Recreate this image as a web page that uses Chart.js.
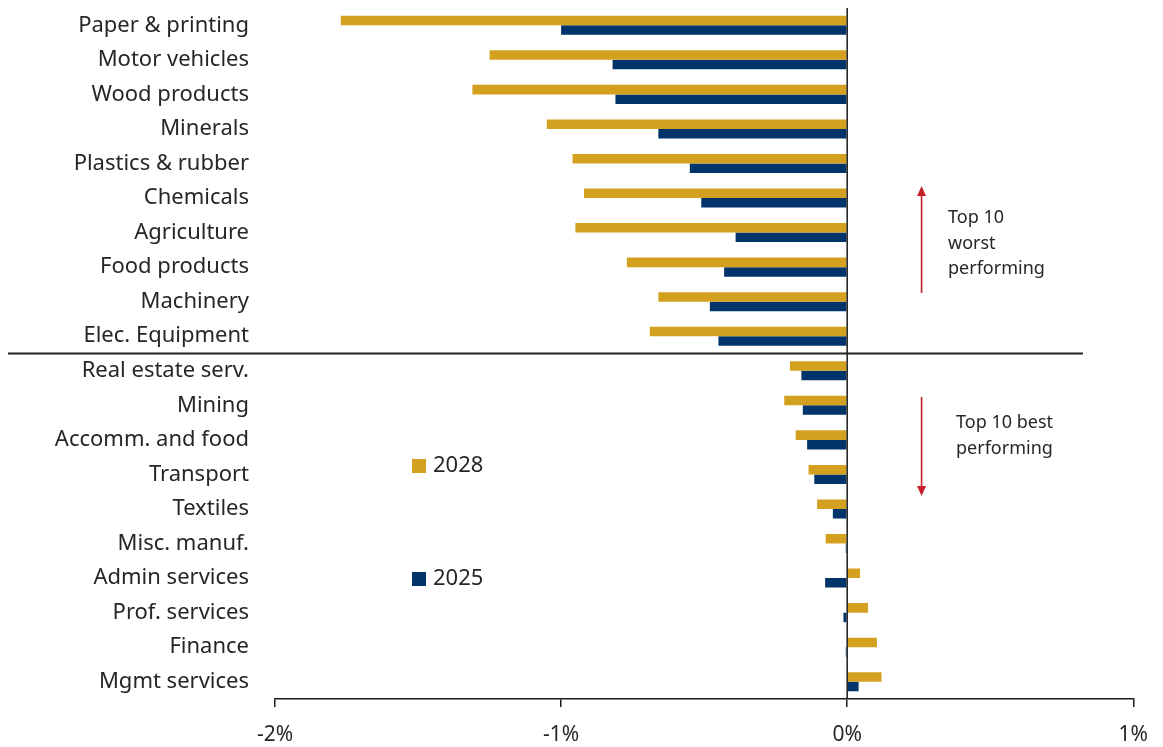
<!DOCTYPE html>
<html>
<head>
<title>Output change by industry</title>
<script src="https://cdn.jsdelivr.net/npm/chart.js"></script>
<style>
  body { margin: 0; background: #fff; }
</style>
</head>
<body>
<canvas id="myChart" width="1163" height="747"></canvas>
<script>
const industries = ['Paper & printing', 'Motor vehicles', 'Wood products', 'Minerals', 'Plastics & rubber',
  'Chemicals', 'Agriculture', 'Food products', 'Machinery', 'Elec. Equipment',
  'Real estate serv.', 'Mining', 'Accomm. and food', 'Transport', 'Textiles',
  'Misc. manuf.', 'Admin services', 'Prof. services', 'Finance', 'Mgmt services'];
const change2028 = [-1.77, -1.25, -1.31, -1.05, -0.96, -0.92, -0.95, -0.77, -0.66, -0.69,
  -0.20, -0.22, -0.18, -0.135, -0.105, -0.075, 0.045, 0.073, 0.104, 0.12];
const change2025 = [-1.0, -0.82, -0.81, -0.66, -0.55, -0.51, -0.39, -0.43, -0.48, -0.45,
  -0.16, -0.155, -0.14, -0.115, -0.05, -0.005, -0.077, -0.013, -0.005, 0.04];
const xTicks = [-2, -1, 0, 1];

const GOLD = '#D3A11F';
const NAVY = '#00346B';
const TEXT = '#262626';
const FONT = '"Noto Sans", "Open Sans", sans-serif';

// zero line, divider, arrows with notes and the legend
const extras = {
  id: 'extras',
  afterDatasetsDraw(chart) {
    const { ctx, scales: { x, y }, chartArea } = chart;
    const x0 = x.getPixelForValue(0);
    ctx.save();
    ctx.strokeStyle = '#1a1a1a';
    ctx.lineWidth = 1.5;
    ctx.beginPath();
    ctx.moveTo(x0, chartArea.top);
    ctx.lineTo(x0, chartArea.bottom);
    ctx.stroke();

    const yDiv = (y.getPixelForValue(9) + y.getPixelForValue(10)) / 2;
    ctx.lineWidth = 2;
    ctx.strokeStyle = '#222';
    ctx.beginPath();
    ctx.moveTo(8, yDiv);
    ctx.lineTo(1083, yDiv);
    ctx.stroke();

    // red arrows
    const ax = x.getPixelForValue(0.26);
    ctx.strokeStyle = '#C3202B';
    ctx.fillStyle = '#C3202B';
    ctx.lineWidth = 1.6;
    function arrow(yFrom, yTip) {
      const dir = yTip < yFrom ? 1 : -1;
      ctx.beginPath();
      ctx.moveTo(ax, yFrom);
      ctx.lineTo(ax, yTip + dir * 8);
      ctx.stroke();
      ctx.beginPath();
      ctx.moveTo(ax, yTip);
      ctx.lineTo(ax - 4.5, yTip + dir * 10);
      ctx.lineTo(ax + 4.5, yTip + dir * 10);
      ctx.closePath();
      ctx.fill();
    }
    arrow(293, 186);
    arrow(397, 496);

    ctx.fillStyle = TEXT;
    ctx.font = '18px ' + FONT;
    ctx.textAlign = 'left';
    ctx.textBaseline = 'middle';
    ['Top 10', 'worst', 'performing'].forEach((t, i) => ctx.fillText(t, 948, 218 + i * 25.5));
    ['Top 10 best', 'performing'].forEach((t, i) => ctx.fillText(t, 956, 423 + i * 25.5));

    // legend
    const items = [[chart.data.datasets[0], 466], [chart.data.datasets[1], 579]];
    ctx.font = '22px ' + FONT;
    items.forEach(([ds, cy]) => {
      ctx.fillStyle = ds.backgroundColor;
      ctx.fillRect(412, cy - 7, 14, 14);
      ctx.fillStyle = TEXT;
      ctx.fillText(ds.label, 433, cy);
    });
    ctx.restore();
  }
};

const ctx = document.getElementById('myChart').getContext('2d');
const myChart = new Chart(ctx, {
  type: 'bar',
  data: {
    labels: industries,
    datasets: [
      { label: '2028', data: change2028, backgroundColor: GOLD },
      { label: '2025', data: change2025, backgroundColor: NAVY }
    ]
  },
  options: {
    indexAxis: 'y',
    responsive: false,
    animation: false,
    devicePixelRatio: 1,
    layout: { padding: { top: 8, right: 26, left: 0, bottom: 0 } },
    categoryPercentage: 0.55,
    barPercentage: 1.0,
    plugins: { legend: { display: false }, tooltip: { enabled: false } },
    scales: {
      x: {
        min: -2,
        max: 1,
        afterBuildTicks(scale) { scale.ticks = xTicks.map(v => ({ value: v })); },
        afterFit(scale) { scale.height = 48; },
        grid: { drawOnChartArea: false, drawTicks: true, tickLength: 8, color: '#1a1a1a', lineWidth: 1.5 },
        border: { display: true, color: '#1a1a1a', width: 1.5 },
        ticks: {
          padding: 15,
          color: TEXT,
          font: { family: FONT, size: 21 },
          callback: v => v + '%'
        }
      },
      y: {
        afterFit(scale) {
          scale.width = 275;
          scale.paddingTop = 0;
          scale.paddingBottom = 0;
        },
        grid: { display: false },
        border: { display: false },
        ticks: {
          padding: 18,
          color: TEXT,
          font: { family: FONT, size: 22 }
        }
      }
    }
  },
  plugins: [extras]
});
</script>
</body>
</html>
